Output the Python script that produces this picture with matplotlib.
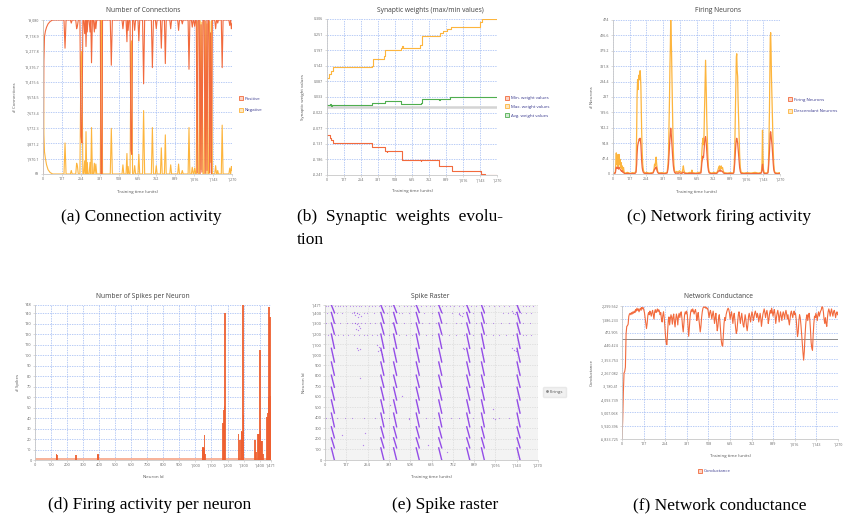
import matplotlib
matplotlib.use("Agg")
import matplotlib.pyplot as plt
from matplotlib.lines import Line2D

W, H = 846, 522

# ---- shared ticks ----
time_ticks = [0, 127, 254, 381, 508, 635, 762, 889, 1016, 1143, 1270]
time_labels = ['0', '127', '254', '381', '508', '635', '762', '889', '1,016', '1,143', '1,270']

# ---- (a) connections ----
conn_t = [0, 3, 6, 10, 16, 24, 34, 48, 65,
          141, 148, 155,
          184, 190, 196,
          220, 226, 231, 237,
          248, 255, 261, 268,
          274, 280, 285, 289, 294, 297, 302,
          310, 316, 321, 326, 332, 339, 345, 350, 355, 361,
          385, 390, 396, 400,
          452, 459, 466,
          531, 537, 543,
          558, 564, 568, 572, 578,
          585, 591, 596, 602,
          610, 616, 622, 638, 644, 650,
          669, 676, 683,
          728, 735, 742,
          755, 761, 767,
          789, 795, 801,
          816, 822, 828,
          852, 858, 864,
          905, 911, 917,
          930, 936, 942,
          975, 981, 987,
          997, 1003, 1009, 1013, 1019, 1025,
          1030, 1036, 1042, 1050, 1056, 1062, 1068, 1075, 1083, 1090, 1096, 1102, 1108, 1115, 1120, 1126, 1132, 1138,
          1154, 1160, 1166, 1169, 1174, 1179,
          1198, 1204, 1210,
          1249, 1255, 1261, 1266, 1270]
conn_pos = [69, 6000, 14000, 17000, 17700, 18200, 18600, 18900, 19080,
            19080, 15600, 19080,
            19080, 18700, 19080,
            19080, 18000, 18300, 19080,
            19080, 4700, 3900, 19080,
            19080, 17400, 19080, 15800, 19080, 17600, 19080,
            19080, 17600, 19080, 13800, 19080, 19080, 17600, 19080, 18000, 19080,
            19080, 69, 69, 19080,
            19080, 13500, 19080,
            19080, 18000, 19080,
            19080, 16400, 19080, 17800, 19080,
            19080, 3000, 2500, 19080,
            19080, 17800, 19080, 19080, 16500, 19080,
            19080, 11200, 19080,
            19080, 13200, 19080,
            19080, 18000, 19080,
            19080, 15600, 19080,
            19080, 13700, 19080,
            19080, 18000, 19080,
            19080, 17800, 19080,
            19080, 18600, 19080,
            19080, 13000, 19080,
            19080, 18200, 19080, 19080, 18300, 19080,
            19080, 200, 19080, 19080, 100, 18500, 300, 19080, 19080, 150, 19080, 500, 19080, 19080, 200, 17500, 100, 19080,
            19080, 18000, 19080, 19080, 18700, 19080,
            19080, 13200, 19080,
            19080, 18400, 19080, 18000, 18600]
conn_neg = [19080, 13000, 5000, 2800, 2000, 1200, 600, 250, 69,
            69, 3900, 69,
            69, 500, 69,
            69, 1400, 1100, 69,
            69, 14500, 15200, 69,
            69, 1700, 69, 5300, 69, 1500, 69,
            69, 1500, 69, 5800, 69, 69, 1400, 69, 1300, 69,
            69, 19080, 19080, 69,
            69, 5700, 69,
            69, 1200, 69,
            69, 2600, 69, 1000, 69,
            69, 16000, 16500, 69,
            69, 1100, 69, 69, 2500, 69,
            69, 7900, 69,
            69, 5800, 69,
            69, 1100, 69,
            69, 3300, 69,
            69, 4900, 69,
            69, 1200, 69,
            69, 1300, 69,
            69, 500, 69,
            69, 5800, 69,
            69, 900, 69, 69, 800, 69,
            69, 18900, 69, 69, 19000, 600, 18800, 69, 69, 18900, 69, 18600, 69, 69, 18900, 1500, 19000, 69,
            69, 1100, 69, 69, 500, 69,
            69, 6100, 69,
            69, 800, 69, 1000, 500]
conn_ticks = [69, 1970.1, 3871.2, 5772.3, 7673.4, 9574.5, 11475.6, 13376.7, 15277.8, 17178.9, 19080]
conn_labels = ['69', '1,970.1', '3,871.2', '5,772.3', '7,673.4', '9,574.5', '11,475.6',
               '13,376.7', '15,277.8', '17,178.9', '19,080']

# ---- (b) synaptic weights ----
wmax_t = [0, 18, 30, 48, 335, 345, 428, 437, 553, 560, 566, 695, 712, 843, 864, 893, 923, 1141, 1156, 1270]
wmax = [0.098, 0.112, 0.124, 0.136, 0.142, 0.165, 0.175, 0.196, 0.204, 0.213, 0.204, 0.214, 0.245,
        0.257, 0.263, 0.271, 0.278, 0.296, 0.306, 0.306]
wmin_t = [0, 22, 30, 45, 337, 434, 447, 450, 558, 700, 705, 839, 935, 1154, 1179, 1270]
wmin = [-0.099, -0.110, -0.120, -0.128, -0.143, -0.156, -0.162, -0.158, -0.190, -0.193, -0.190,
        -0.209, -0.227, -0.236, -0.241, -0.241]
wavg_t = [0, 20, 28, 35, 45, 337, 420, 437, 545, 551, 700, 707, 840, 845, 865, 918, 1141, 1270]
wavg = [0.004, 0.008, 0.000, 0.006, 0.003, 0.010, 0.011, 0.020, 0.019, 0.007, 0.010, 0.027,
        0.022, 0.024, 0.027, 0.031, 0.033, 0.033]
weight_ticks = [-0.241, -0.186, -0.131, -0.077, -0.022, 0.033, 0.087, 0.142, 0.197, 0.251, 0.306]
weight_labels = ['-0.241', '-0.186', '-0.131', '-0.077', '-0.022', '0.033', '0.087', '0.142',
                 '0.197', '0.251', '0.306']

# ---- (c) firing neurons ----
fire_t = [0, 10,
          18, 22, 25, 28, 32, 35, 38, 42, 46, 50, 54, 58, 62, 66, 70, 75, 80, 85,
          95, 110, 130, 150, 165,
          175, 180, 183, 187, 191, 195, 199, 203, 206, 209, 212, 215, 218, 222, 226, 232, 240,
          255, 275, 295,
          305, 312, 316, 320, 324, 328, 331, 335, 340, 346,
          370, 395, 405,
          412, 418, 422, 426, 430, 433, 436, 439, 442, 445, 448, 451, 455, 459, 463, 468, 475,
          485, 495, 505, 515, 525, 531, 535, 539, 546, 565, 585, 596, 600, 605, 630, 655,
          668, 672, 676, 680, 684, 688, 692, 696, 700, 704, 707, 710, 713, 717, 721, 726, 732,
          750, 770, 785,
          795, 800, 805, 810, 814, 818, 823, 828, 833, 838, 845,
          870, 895, 910,
          918, 922, 926, 930, 934, 938, 941, 944, 948, 951, 955, 959, 963, 968, 974,
          995, 1020, 1050, 1080, 1105, 1120,
          1128, 1133, 1137, 1140, 1144, 1150,
          1165,
          1178, 1182, 1186, 1190, 1193, 1196, 1199, 1202, 1205, 1208, 1211, 1214, 1218, 1222, 1227, 1233,
          1250, 1270]
desc_n = [2, 3,
          5, 40, 65, 30, 55, 25, 60, 20, 60, 30, 45, 20, 35, 15, 25, 10, 20, 4,
          3, 5, 2, 4, 3,
          10, 130, 240, 290, 260, 300, 305, 290, 318, 300, 270, 200, 130, 70, 30, 10, 3,
          5, 3, 4,
          5, 15, 30, 25, 40, 52, 35, 20, 8, 3,
          4, 3, 4,
          5, 30, 60, 150, 240, 330, 390, 474, 430, 380, 300, 230, 140, 70, 30, 10, 4,
          8, 5, 10, 6, 4, 15, 25, 12, 4, 3, 5, 4, 12, 4, 3, 5,
          5, 30, 70, 95, 110, 90, 120, 200, 270, 350, 300, 240, 170, 110, 60, 20, 5,
          3, 5, 3,
          8, 15, 22, 25, 14, 22, 25, 16, 20, 10, 4,
          3, 4, 3,
          5, 30, 80, 180, 280, 360, 370, 320, 300, 230, 170, 110, 60, 20, 5,
          3, 4, 3, 5, 3, 4,
          5, 30, 135, 60, 15, 4,
          3,
          5, 30, 100, 200, 320, 420, 435, 380, 300, 250, 200, 140, 80, 35, 10, 4,
          3, 4]
fire_n = [1, 2,
          3, 15, 20, 18, 22, 18, 20, 15, 20, 18, 15, 12, 10, 8, 10, 5, 6, 2,
          1, 2, 1, 2, 1,
          5, 30, 60, 85, 95, 100, 108, 105, 110, 100, 90, 65, 40, 20, 10, 4, 2,
          2, 1, 2,
          3, 10, 15, 15, 20, 22, 18, 10, 5, 2,
          2, 1, 2,
          3, 15, 30, 60, 90, 110, 125, 141, 130, 110, 90, 70, 45, 25, 12, 5, 2,
          3, 2, 4, 2, 2, 5, 6, 4, 2, 1, 2, 2, 4, 2, 1, 2,
          3, 15, 35, 45, 55, 50, 70, 95, 110, 115, 105, 90, 70, 45, 25, 10, 3,
          1, 2, 1,
          4, 8, 10, 12, 8, 12, 10, 8, 8, 4, 2,
          1, 2, 1,
          3, 15, 35, 65, 90, 105, 110, 105, 95, 80, 60, 40, 20, 8, 2,
          1, 2, 1, 2, 1, 2,
          3, 12, 30, 20, 6, 2,
          1,
          3, 15, 40, 70, 100, 125, 130, 120, 105, 95, 80, 60, 35, 15, 6, 2,
          1, 2]
neuron_ticks = [0, 47.4, 94.8, 142.2, 189.6, 237, 284.4, 331.8, 379.2, 426.6, 474]
neuron_labels = ['0', '47.4', '94.8', '142.2', '189.6', '237', '284.4', '331.8', '379.2', '426.6', '474']

# ---- (d) spikes per neuron ----
spike_ids = [135, 138, 256, 391, 394, 1045, 1049, 1053, 1057, 1063, 1171, 1175, 1180, 1186,
             1269, 1274, 1280, 1288, 1292, 1296, 1300, 1373, 1378, 1390, 1396, 1399, 1402, 1406,
             1411, 1416, 1421, 1446, 1450, 1455, 1459, 1463, 1465, 1469]
spike_counts = [6, 5, 5, 6, 5, 11, 12, 11, 24, 6, 35, 48, 52, 140,
                25, 19, 19, 28, 27, 148, 43, 19, 8, 25, 25, 18, 105, 28,
                18, 18, 6, 41, 45, 60, 146, 46, 137, 61]
base_ids = [0, 1471]
base_counts = [1.5, 1.5]
spike_ticks = [0, 10, 20, 30, 40, 50, 60, 70, 80, 90, 100, 110, 120, 130, 140, 148]
spike_labels = ['0', '10', '20', '30', '40', '50', '60', '70', '80', '90', '100', '110', '120',
                '130', '140', '148']
id_ticks = [0, 100, 200, 300, 400, 500, 600, 700, 800, 900, 1000, 1100, 1200, 1300, 1400, 1471]
id_labels = ['0', '100', '200', '300', '400', '500', '600', '700', '800', '900', '1,000', '1,100',
             '1,200', '1,300', '1,400', '1,471']

# ---- (e) spike raster ----
block_edges = [0, 115, 210, 315, 445, 570, 690, 805, 930, 1060, 1195, 1300, 1400, 1471]
burst_onsets = [38, 333, 409, 544, 678, 845, 933, 1145]
burst_spans = [18, 18, 18, 18, 18, 18, 17, 18]
row1462_t = [5, 20, 60, 75, 90, 110, 125, 150, 165, 185, 200, 215, 240, 260, 280, 300, 320, 360,
             380, 395, 440, 470, 490, 510, 530, 570, 600, 625, 650, 700, 720, 745, 770, 800, 820,
             870, 900, 950, 980, 1010, 1040, 1070, 1100, 1180, 1200, 1215, 1240]
row1398_t = [10, 55, 70, 100, 160, 175, 190, 230, 250, 290, 350, 370, 440, 460, 500, 590, 640,
             700, 760, 800, 880, 950, 1060, 1090, 1170, 1200, 1230]
row1297_t = [5, 60, 90, 130, 160, 180, 195, 215, 240, 270, 300, 350, 400, 430, 470, 510, 580,
             620, 660, 720, 780, 810, 900, 960, 1000, 1050, 1100, 1180, 1220]
row1190_t = [0, 20, 60, 80, 110, 140, 170, 200, 230, 250, 280, 310, 350, 380, 440, 480, 520, 560,
             600, 640, 700, 740, 780, 830, 880, 960, 1000, 1040, 1080, 1120, 1180, 1200, 1230]
row400_t = [5, 30, 70, 120, 160, 230, 300, 350, 380, 500, 600, 650, 700, 750, 800, 850, 880,
            1000, 1040, 1100]
cluster_t = [172, 180, 188, 196, 205, 214, 176, 192, 200, 184, 196, 206, 188, 199, 208,
             312, 322, 330, 338, 318, 1112, 1120, 1130, 1140, 1116, 1128, 1136,
             798, 806, 814, 822, 820, 830, 210, 100, 229, 498, 617, 1015, 240, 385, 462, 725, 1000]
cluster_id = [1405, 1380, 1395, 1360, 1385, 1370, 1300, 1290, 1275, 1240, 1230, 1250, 1060, 1040, 1050,
              1095, 1070, 1040, 1010, 1030, 1410, 1395, 1385, 1400, 1060, 1045, 1035,
              1390, 1380, 1370, 1395, 1060, 1050, 780, 240, 145, 390, 145, 390, 260, 520, 610, 80, 480]

# ---- (f) conductance, sampled every 4 time units ----
cond_t = list(range(0, 1270, 4))
cond_v = [-6834, -5600, -3600, -2300, -2200, -1900, 400, 900, 950, 1050, 1600, 1750, 1800, 1700, 1850,
          1750, 1900, 1800, 1950, 1850, 2050, 1950, 2150, 2000, 2100,
          1900, 2050, 2150, 2000, 2200, 2100, 2200, 2050, 1850, 1500, 1100, 750, 1100, 1650, 1850,
          1700, 1950, 1800, 1600, 1850, 2000, 1700, 1400, 1900, 2050,
          1850, 1950, 2100, 1900, 2050, 1950, 1700, 1850, 1400, 1200, 1650, 1900, 1500, 900, 200,
          -250, -350, 500, 1300, 1550, 1000, 1400, 1700, 1500, 1050,
          1550, 1750, 1200, 860, 1400, 1750, 1500, 1000, 1600, 1800, 1500, 1750, 1900, 1500, 900,
          520, 1100, 1700, 1900, 1750, 1950, 1700, 900, 220, 800,
          1500, 1900, 2050, 1900, 2100, 1950, 1750, 1950, 2050, 1800, 1300, 1600, 1850, 1400, 900,
          520, 900, 1500, 1900, 2150, 2230, 2200, 2250, 2150, 2200,
          2100, 2150, 1800, 1500, 1850, 2000, 1750, 1400, 1700, 1950, 1600, 1100, 1500, 1800, 1200,
          600, 900, 1500, 1700, 1200, 500, -100, -400, -460, 300,
          1100, 1500, 1300, 1700, 1900, 2050, 2150, 2050, 1800, 1400, 1700, 1900, 1500, 1100, 1600,
          1800, 1300, 800, 420, 600, 1200, 1700, 1900, 1500, 1100,
          1500, 1800, 1400, 1000, 850, 1300, 1700, 1400, 900, 600, 1000, 1600, 1800, 1500, 1200,
          1600, 1900, 1700, 1300, 1500, 1800, 1950, 1750, 1500, 1800,
          1600, 1200, 1500, 1800, 1450, 900, 1300, 1700, 1900, 2100, 1850, 1500, 1800, 2000, 1700,
          1100, 1400, 1800, 2000, 1800, 2150, 1900, 1600, 1900, 2050,
          1650, 1100, 1500, 1800, 2000, 1700, 1200, 1600, 1900, 1600, 1300, 1700, 1900, 1700, 1400,
          1800, 2000, 1750, 1400, 1700, 1300, 1000, 1400, 1800, 1950,
          1700, 1500, 1800, 1950, 1700, 1800, 1400, 800, 200, 500, 1300, 1700, 1500, 1000, 400,
          -300, -900, -1420, -800, 200, 1000, 1500, 1700, 1300, 1600,
          1800, 1400, 700, -200, -600, -740, 300, 1100, 1600, 1500, 1800, 1600, 1300, 1700, 1900,
          1600, 1800, 1950, 2050, 2250, 2200, 1900, 1400, 1100, 1500,
          1100, 900, 1500, 1900, 2100, 1900, 1600, 1900, 2100, 1800, 1600, 1900, 2000, 1800, 1500,
          1800, 1900, 1700]
cond_ticks = [-6833.725, -5920.396, -5007.068, -4093.739, -3180.41, -2267.082, -1353.753,
              -440.424, 472.905, 1386.233, 2299.562]
cond_labels = ['-6,833.725', '-5,920.396', '-5,007.068', '-4,093.739', '-3,180.41', '-2,267.082',
               '-1,353.753', '-440.424', '472.905', '1,386.233', '2,299.562']

RED = '#f26a3d'
ORANGE = '#fdb53d'
GREEN = '#4fae4f'
PURPLE = '#8a3be6'
GRID = '#9db8f3'
LIGHT = {RED: '#fcd3c3', ORANGE: '#fee6bd', GREEN: '#d2ead2'}


def px_axes(fig, left, top, right, bottom):
    return fig.add_axes([left / W, 1 - bottom / H, (right - left) / W, (bottom - top) / H])


def style_axes(ax, xt, xl, yt, yl, xlabel, ylabel, xlab_y, ylab_x, size=2.6, grid=GRID):
    ax.set_xticks(xt)
    ax.set_xticklabels(xl)
    ax.set_yticks(yt)
    ax.set_yticklabels(yl)
    ax.set_xlim(xt[0], xt[-1])
    ax.set_ylim(yt[0], yt[-1])
    ax.tick_params(labelsize=size, colors='#c0c0c0', labelcolor='#666666',
                   length=1.5, width=0.4, pad=1)
    for s in ['top', 'right']:
        ax.spines[s].set_visible(False)
    for s in ['left', 'bottom']:
        ax.spines[s].set_color('#c8c8c8')
        ax.spines[s].set_linewidth(0.6)
    ax.grid(True, color=grid, linestyle=(0, (2, 1.5)), linewidth=0.5)
    ax.set_axisbelow(True)
    ax.set_xlabel(xlabel, fontsize=3.2, color='#555555')
    ax.set_ylabel(ylabel, fontsize=3.2, color='#555555')
    ax.xaxis.set_label_coords(0.5, xlab_y)
    ax.yaxis.set_label_coords(ylab_x, 0.5)


def title(fig, x, y, text):
    fig.text(x / W, 1 - y / H, text, ha='center', va='center', fontsize=4.8, color='#404040')


def side_legend(fig, colors, labels, x, y, spacing):
    handles = [Line2D([], [], linestyle='none', marker='s', markersize=2.4, markeredgewidth=0.6,
                      markeredgecolor=c, markerfacecolor=LIGHT[c]) for c in colors]
    fig.legend(handles, labels, loc='center left', bbox_to_anchor=(x / W, 1 - y / H),
               frameon=False, fontsize=3.2, labelcolor='#3b3b8f', handlelength=0.6,
               handletextpad=0.5, labelspacing=spacing, borderpad=0, borderaxespad=0)


def main():
    plt.rcParams['font.family'] = ['Open Sans', 'DejaVu Sans']
    fig = plt.figure(figsize=(W / 100, H / 100), dpi=100)

    # (a)
    ax = px_axes(fig, 43, 20, 232, 174)
    ax.plot(conn_t, conn_neg, color=ORANGE, lw=0.8)
    ax.plot(conn_t, conn_pos, color=RED, lw=0.8)
    style_axes(ax, time_ticks, time_labels, conn_ticks, conn_labels,
               'Training time (units)', '# Connections', -0.104, -0.135)
    title(fig, 143, 11, 'Number of Connections')
    side_legend(fig, [RED, ORANGE], ['Positive', 'Negative'], 240, 104.5, 1.6)

    # (b)
    ax = px_axes(fig, 327, 19, 497, 175)
    ax.axhline(-0.002, color='#d4d4d4', lw=1.8)
    ax.step(wmin_t, wmin, where='post', color=RED, lw=0.8)
    ax.step(wmax_t, wmax, where='post', color=ORANGE, lw=0.8)
    ax.step(wavg_t, wavg, where='post', color=GREEN, lw=0.8)
    style_axes(ax, time_ticks, time_labels, weight_ticks, weight_labels,
               'Training time (units)', 'Synaptic weight values', -0.09, -0.13)
    title(fig, 430, 11, 'Synaptic weights (max/min values)')
    side_legend(fig, [RED, ORANGE, GREEN],
                ['Min. weight values', 'Max. weight values', 'Avg. weight values'], 506, 107, 1.0)

    # (c)
    ax = px_axes(fig, 613, 20, 780, 174)
    ax.plot(fire_t, desc_n, color=ORANGE, lw=0.9)
    ax.plot(fire_t, fire_n, color=RED, lw=0.9)
    style_axes(ax, time_ticks, time_labels, neuron_ticks, neuron_labels,
               'Training time (units)', '# Neurons', -0.104, -0.115)
    title(fig, 718, 11, 'Firing Neurons')
    side_legend(fig, [RED, ORANGE], ['Firing Neurons', 'Descendant Neurons'], 789, 105.5, 1.6)

    # (d)
    ax = px_axes(fig, 35, 305, 271, 460)
    ax.fill_between(base_ids, 0, base_counts, color='#f7b49b', lw=0)
    ax.bar(spike_ids, spike_counts, width=10, color='#ee5f30', alpha=0.9, linewidth=0)
    style_axes(ax, id_ticks, id_labels, spike_ticks, spike_labels,
               'Neuron Id', '# Spikes', -0.097, -0.065, size=2.8)
    title(fig, 143, 297, 'Number of Spikes per Neuron')

    # (e)
    ax = px_axes(fig, 325, 305, 538, 460)
    ax.set_facecolor('#f3f3f3')
    for t0, span in zip(burst_onsets, burst_spans):
        for lo, hi in zip(block_edges[:-1], block_edges[1:]):
            ax.plot([t0, t0 + span], [hi, lo], color=PURPLE, lw=1.0, alpha=0.9)
    for row_id, times in [(1462, row1462_t), (1398, row1398_t), (1297, row1297_t),
                          (1190, row1190_t), (400, row400_t)]:
        ax.scatter(times, [row_id] * len(times), s=0.7, color=PURPLE, alpha=0.55, linewidths=0)
    ax.scatter(cluster_t, cluster_id, s=0.9, color=PURPLE, alpha=0.6, linewidths=0)
    style_axes(ax, time_ticks, time_labels, id_ticks, id_labels,
               'Training time (units)', 'Neuron Id', -0.097, -0.09, size=2.8, grid='#dadada')
    title(fig, 430, 297, 'Spike Raster')
    ax.legend([Line2D([], [], linestyle='none', marker='.', markersize=2, color='#888888')],
              ['Firings'], loc='center left', bbox_to_anchor=(1.015, 0.44), fontsize=3.2,
              labelcolor='#555555', frameon=True, facecolor='#eeeeee', edgecolor='#e4e4e4',
              handlelength=0.4, handletextpad=0.4, borderpad=0.6, fancybox=True)

    # (f)
    ax = px_axes(fig, 622, 306, 838, 439)
    ax.axhline(0, color='#8c8c8c', lw=0.7)
    ax.plot(cond_t, cond_v, color=RED, lw=0.8)
    style_axes(ax, time_ticks, time_labels, cond_ticks, cond_labels,
               'Training time (units)', 'Conductance', -0.113, -0.13)
    title(fig, 718, 297, 'Network Conductance')
    side_legend(fig, [RED], ['Conductance'], 699, 471, 1.0)

    # captions
    cap = dict(family='Liberation Serif', fontsize=12.5, color='black', va='center')
    fig.text(141 / W, 1 - 217 / H, '(a) Connection activity', ha='center', **cap)
    fig.text(297 / W, 1 - 217 / H, '(b)  Synaptic  weights  evolu-', ha='left', **cap)
    fig.text(297 / W, 1 - 240 / H, 'tion', ha='left', **cap)
    fig.text(719 / W, 1 - 217 / H, '(c) Network firing activity', ha='center', **cap)
    fig.text(150 / W, 1 - 505 / H, '(d) Firing activity per neuron', ha='center', **cap)
    fig.text(445 / W, 1 - 505 / H, '(e) Spike raster', ha='center', **cap)
    fig.text(720 / W, 1 - 505 / H, '(f) Network conductance', ha='center', **cap)

    fig.savefig('out.png', dpi=100)


if __name__ == "__main__":
    main()
